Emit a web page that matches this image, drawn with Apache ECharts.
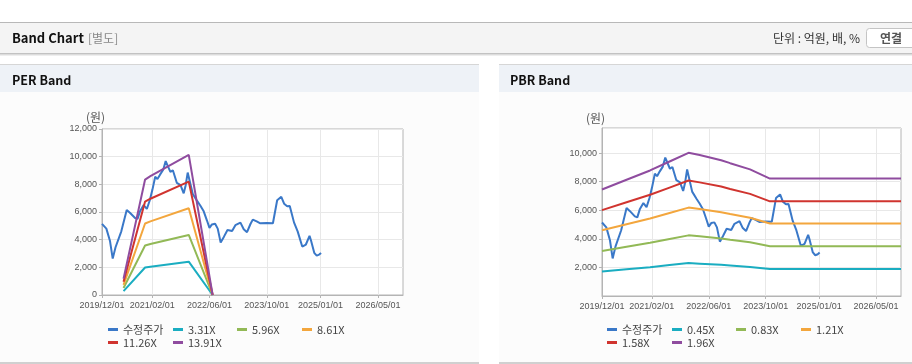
<!DOCTYPE html>
<html><head><meta charset="utf-8">
<script src="https://cdn.jsdelivr.net/npm/echarts@6/dist/echarts.min.js"></script>
<style>html,body{margin:0;padding:0;background:#fff;}#c{width:912px;height:364px;}</style>
</head><body><div id="c"></div>
<script>
// ---- data ----
const xTickLabels = ['2019/12/01','2021/02/01','2022/06/01','2023/10/01','2025/01/01','2026/05/01'];
const axisStart = '2019-12-01';
const axisEnd = '2026-12-01';

const priceDates = ['2019-12-01','2020-01-07','2020-02-07','2020-03-01','2020-03-25','2020-05-13','2020-06-28','2020-07-25','2020-09-07','2020-09-28','2020-10-19','2020-11-19','2020-12-16','2021-01-10','2021-02-01','2021-02-25','2021-03-16','2021-04-07','2021-05-04','2021-05-25','2021-06-16','2021-07-04','2021-07-25','2021-08-28','2021-09-28','2021-10-25','2021-11-10','2021-11-28','2021-12-16','2022-01-10','2022-02-16','2022-03-16','2022-04-13','2022-05-10','2022-06-01','2022-06-22','2022-07-19','2022-08-10','2022-09-04','2022-10-01','2022-11-01','2022-12-10','2023-01-07','2023-02-19','2023-03-19','2023-04-16','2023-05-16','2023-06-04','2023-07-07','2023-08-07','2023-10-01','2023-11-22','2023-12-28','2024-02-01','2024-02-25','2024-03-22','2024-04-13','2024-05-19','2024-06-19','2024-07-28','2024-08-28','2024-09-28','2024-10-10','2024-11-07','2024-11-28','2024-12-19','2025-01-04'];
const priceValues = [5140,4800,3900,2630,3450,4600,6150,5950,5570,5500,6060,6500,6220,6850,7600,8550,8380,8700,9050,9680,9250,8900,9020,8100,7950,7350,7900,8850,8200,7300,6800,6450,6050,5400,4850,5100,5150,4800,3800,4200,4700,4620,5050,5230,4750,4540,5150,5450,5320,5180,5210,5190,6850,7100,6600,6420,6440,5250,4600,3500,3650,4280,3950,3050,2850,2920,3040];

const perBandNames = ['3.31X','5.96X','8.61X','11.26X','13.91X'];
const perBandDates = ['2020-06-01','2020-12-01','2021-01-15','2021-12-07','2022-06-28'];
const per331 = [281,1986,2046,2410,0];
const per596 = [507,3576,3683,4339,0];
const per861 = [732,5166,5321,6268,0];
const per1126 = [957,6756,6959,8197,0];
const per1391 = [1182,8346,8596,10126,0];

const pbrBandNames = ['0.45X','0.83X','1.21X','1.58X','1.96X'];
const pbrBandDates = ['2019-12-01','2020-06-28','2021-01-15','2021-07-01','2021-12-10','2022-03-15','2022-09-15','2022-12-01','2023-05-20','2023-11-06','2026-12-01'];
const pbr045 = [1710,1868,2016,2160,2300,2264,2180,2133,2034,1886,1886];
const pbr083 = [3154,3445,3718,3984,4241,4175,4021,3934,3752,3478,3478];
const pbr121 = [4598,5022,5421,5808,6183,6086,5862,5735,5469,5070,5070];
const pbr158 = [6004,6557,7078,7584,8074,7947,7655,7489,7142,6620,6620];
const pbr196 = [7448,8134,8781,9408,10016,9859,9496,9290,8859,8212,8212];

const perMax = 12000, pbrMax = 11750, yStep = 2000;

const colors = ['#3a78c8','#1aadc1','#92b956','#f3a63d','#d0342f','#8f4c9f'];

// ---- build ----
const months = [];
{
  let y = +axisStart.slice(0,4), m = +axisStart.slice(5,7);
  const ey = +axisEnd.slice(0,4), em = +axisEnd.slice(5,7);
  while (y < ey || (y === ey && m <= em)) {
    months.push(y + '/' + String(m).padStart(2,'0') + '/01');
    m++; if (m > 12) { m = 1; y++; }
  }
}
const zip = (d, v) => d.map((x, i) => [x, v[i]]);
const isTick = (i, v) => xTickLabels.includes(v);
const axisFont = {fontFamily:'Liberation Sans, Arial, sans-serif', fontSize:9, color:'#555'};
const lineColor = '#b4b4b4', gridLine = '#e8e8e8';

function catAxis(g){
  return {type:'category', gridIndex:g, data:months, boundaryGap:false,
    axisLine:{lineStyle:{color:lineColor}},
    axisTick:{interval:isTick, length:3, lineStyle:{color:lineColor}},
    axisLabel:Object.assign({interval:isTick, margin:6}, axisFont),
    splitLine:{show:true, interval:isTick, lineStyle:{color:gridLine}}};
}
function timeAxis(g){
  return {type:'time', gridIndex:g, min:axisStart, max:axisEnd, show:false};
}
function valAxis(g, max, hideMin){
  return {type:'value', gridIndex:g, min:0, max:max, interval:yStep,
    axisLine:{show:true, lineStyle:{color:lineColor}},
    axisTick:{show:true, length:3, lineStyle:{color:lineColor}},
    axisLabel:Object.assign({margin:5, showMinLabel:!hideMin, showMaxLabel: max % yStep === 0,
      formatter:v => v.toLocaleString('en-US')}, axisFont),
    splitLine:{lineStyle:{color:gridLine}}};
}
function line(name, data, xi, yi, color){
  return {type:'line', name, data, xAxisIndex:xi, yAxisIndex:yi, showSymbol:false, symbol:'none',
    lineStyle:{width:2, color}, itemStyle:{color}, animation:false};
}
const series = [
  line('수정주가', zip(priceDates, priceValues), 1, 0, colors[0]),
  line(perBandNames[0], zip(perBandDates, per331), 1, 0, colors[1]),
  line(perBandNames[1], zip(perBandDates, per596), 1, 0, colors[2]),
  line(perBandNames[2], zip(perBandDates, per861), 1, 0, colors[3]),
  line(perBandNames[3], zip(perBandDates, per1126), 1, 0, colors[4]),
  line(perBandNames[4], zip(perBandDates, per1391), 1, 0, colors[5]),
  line('수정주가', zip(priceDates, priceValues), 3, 1, colors[0]),
  line(pbrBandNames[0], zip(pbrBandDates, pbr045), 3, 1, colors[1]),
  line(pbrBandNames[1], zip(pbrBandDates, pbr083), 3, 1, colors[2]),
  line(pbrBandNames[2], zip(pbrBandDates, pbr121), 3, 1, colors[3]),
  line(pbrBandNames[3], zip(pbrBandDates, pbr158), 3, 1, colors[4]),
  line(pbrBandNames[4], zip(pbrBandDates, pbr196), 3, 1, colors[5])
];

const legendFont = {fontFamily:'Noto Sans CJK KR, sans-serif', fontSize:11, color:'#444'};
function legendsFor(names, x0, y0){
  const cols = [0,65,129,194];
  return names.map((n, i) => ({
    data:[n], left:x0 + cols[i % 4], top:y0 + Math.floor(i / 4) * 13, padding:0,
    icon:'rect', itemWidth:10, itemHeight:3, itemGap:0, textStyle:legendFont,
    selectedMode:false
  }));
}
const legends = legendsFor(['수정주가'].concat(perBandNames), 108, 324)
  .concat(legendsFor(['수정주가'].concat(pbrBandNames), 607, 324));

const hdrFont = 'Noto Sans CJK KR, sans-serif';
const bg = (x,y,w,h,fill) => ({type:'rect', z:-10, silent:true, shape:{x,y,width:w,height:h}, style:{fill}});
const txt = (x,y,text,font,fill,align) => ({type:'text', z:10, silent:true, x, y,
  style:{text, font, fill, align:align||'left', verticalAlign:'middle'}});
const graphic = [
  bg(0,22,912,1,'#b8b8b8'),
  bg(0,23,912,30,'#f4f4f4'),
  bg(0,53,912,1,'#c2c2c2'),
  bg(0,54,912,1,'#dcdcdc'),
  bg(0,55,912,1,'#eeeeee'),
  txt(12,38,'Band Chart','bold 13px ' + hdrFont,'#111'),
  txt(88,38,'[별도]','12px ' + hdrFont,'#888'),
  txt(860,38,'단위 : 억원, 배, %','12px ' + hdrFont,'#333','right'),
  {type:'rect', z:5, silent:true, shape:{x:866.5,y:28.5,width:60,height:19,r:3}, style:{fill:'#fff', stroke:'#c4c4c4', lineWidth:1}},
  txt(891,38,'연결','bold 12px ' + hdrFont,'#555','center'),
  // left panel
  bg(0,64,479,1,'#d6d6d6'),
  bg(0,65,479,27,'#eef2f7'),
  bg(0,92,479,270,'#fcfcfc'),
  bg(0,362,479,2,'#d0d0d0'),
  txt(12,80,'PER Band','bold 12.5px ' + hdrFont,'#111'),
  // right panel
  bg(499,64,413,1,'#d6d6d6'),
  bg(499,65,413,27,'#eef2f7'),
  bg(499,92,413,270,'#fcfcfc'),
  bg(499,362,413,2,'#d0d0d0'),
  txt(510,80,'PBR Band','bold 12.5px ' + hdrFont,'#111'),
  // axis units
  txt(86,117,'(원)','12px ' + hdrFont,'#555'),
  txt(586,118,'(원)','12px ' + hdrFont,'#555')
];

const chart = echarts.init(document.getElementById('c'), null, {renderer:'canvas'});
chart.setOption({
  animation:false,
  backgroundColor:'#fff',
  graphic:{elements:graphic},
  grid:[
    {left:102, top:129, width:301, height:166, show:true, backgroundColor:'#fff', borderColor:lineColor, borderWidth:1, containLabel:false},
    {left:602, top:128, width:299, height:168, show:true, backgroundColor:'#fff', borderColor:lineColor, borderWidth:1, containLabel:false}
  ],
  xAxis:[catAxis(0), timeAxis(0), catAxis(1), timeAxis(1)],
  yAxis:[valAxis(0, perMax, false), valAxis(1, pbrMax, true)],
  legend:legends,
  tooltip:{show:false},
  series
});
</script></body></html>
